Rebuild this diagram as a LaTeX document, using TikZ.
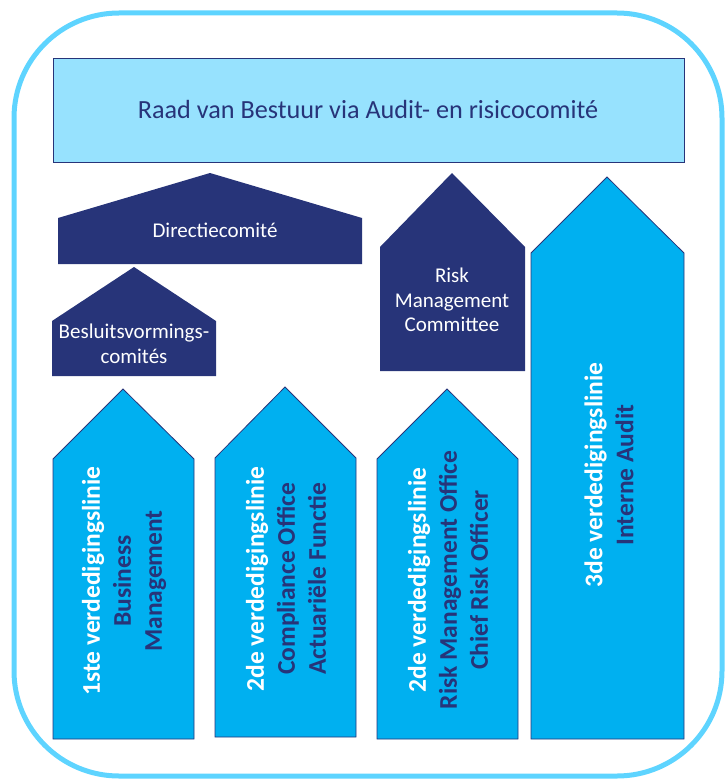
\documentclass[tikz,border=0pt]{standalone}
\usepackage{fontspec}
\setmainfont{Carlito}
\usetikzlibrary{positioning}

\definecolor{navy}{RGB}{39,52,121}
\definecolor{linefill}{RGB}{0,176,240}
\definecolor{boardfill}{RGB}{151,226,254}
\definecolor{framecol}{RGB}{94,212,255}

\tikzset{
  linearrow/.style={fill=linefill, draw=navy, line width=0.8pt},
  committee/.style={fill=navy},
  linetext/.style={rotate=90, align=center, text=navy,
    font=\bfseries\fontsize{25.5}{31}\selectfont},
  committeetext/.style={align=center, text=white,
    font=\fontsize{21}{24.5}\selectfont}
}

\begin{document}
\begin{tikzpicture}[x=1pt, y=-1pt]
  \useasboundingbox (0,0) rectangle (726,781);
  \draw[framecol, line width=5pt, rounded corners=105pt] (14,13) rectangle (722,776);

  \draw[fill=boardfill, draw=navy, line width=1pt] (53,59) rectangle (684,162);
  \node[text=navy, font=\fontsize{26.2}{30}\selectfont] (board) at (368,110)
    {Raad van Bestuur via Audit- en risicocomité};

  \fill[committee] (58,264) -- (58,218) -- (210,173) -- (362,218) -- (362,264) -- cycle;
  \node[committeetext] (directie) at (215,230) {Directiecomité};
  \fill[committee] (52,376) -- (52,321) -- (134,267) -- (216,321) -- (216,376) -- cycle;
  \node[committeetext] (besluit) at (134,344) {Besluitsvormings-\\comités};
  \fill[committee] (380,371) -- (380,247) -- (452,173) -- (525,247) -- (525,371) -- cycle;
  \node[committeetext] (rmc) at (452,300) {Risk\\Management\\Committee};

  \draw[linearrow] (53,739) -- (53,459) -- (123,389) -- (194,459) -- (194,739) -- cycle;
  \draw[linearrow] (215,737) -- (215,458) -- (285,387) -- (356,458) -- (356,737) -- cycle;
  \draw[linearrow] (377,739) -- (377,459) -- (447,389) -- (518,459) -- (518,739) -- cycle;
  \draw[linearrow] (531,739) -- (531,253) -- (607,177) -- (684,253) -- (684,739) -- cycle;

  \node[linetext] (first) at (124,581)
    {\textcolor{white}{1ste verdedigingslinie}\\Business\\Management};
  \node[linetext] (compliance) at (286,579)
    {\textcolor{white}{2de verdedigingslinie}\\Compliance Office\\Actuariële Functie};
  \node[linetext] (riskoffice) at (448,580)
    {\textcolor{white}{2de verdedigingslinie}\\Risk Management Office\\Chief Risk Officer};
  \node[linetext] (audit) at (609,475)
    {\textcolor{white}{3de verdedigingslinie}\\Interne Audit};
\end{tikzpicture}
\end{document}
